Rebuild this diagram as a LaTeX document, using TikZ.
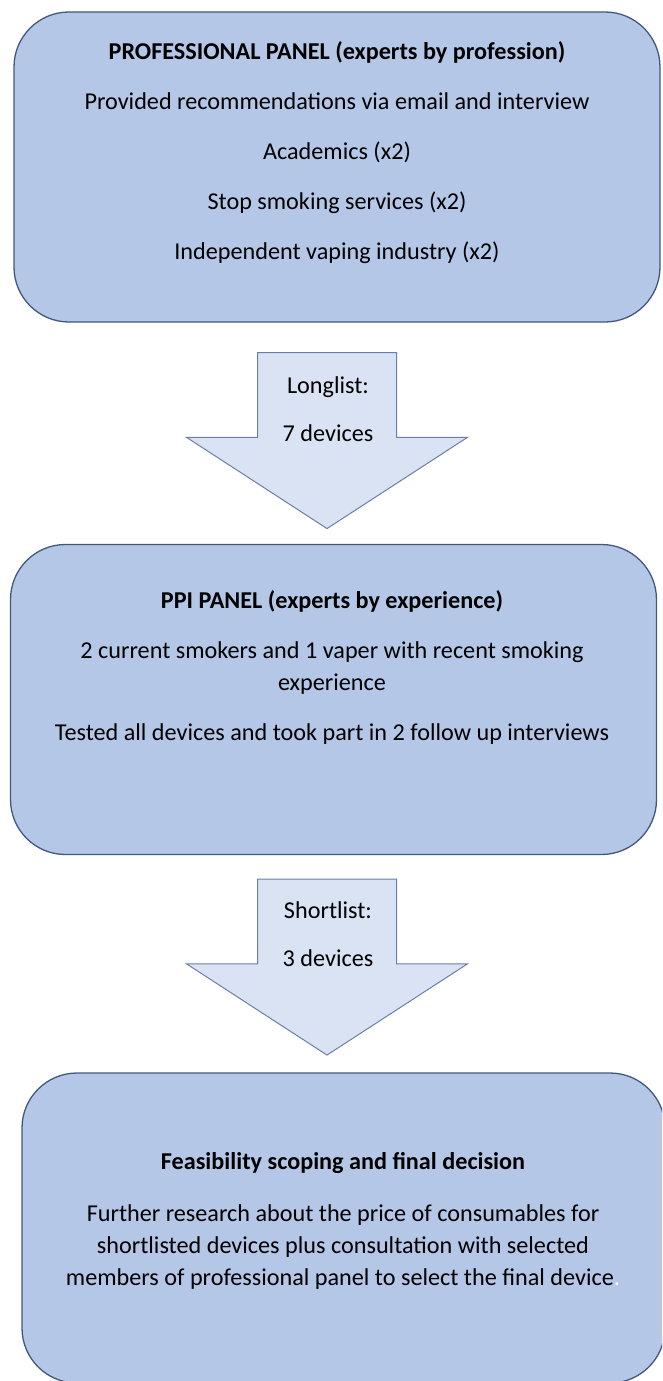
\documentclass[tikz,border=0pt]{standalone}
\usepackage{fontspec}
\setmainfont{Carlito}
\usepackage{tikz}
\usetikzlibrary{shapes.arrows, positioning}

\definecolor{panelfill}{HTML}{B4C7E7}
\definecolor{paneldraw}{HTML}{42587F}
\definecolor{arrowfill}{HTML}{DAE3F3}
\definecolor{arrowdraw}{HTML}{6B7FA6}

\tikzset{
  panel/.style={rectangle, draw=paneldraw, fill=panelfill, line width=1.3pt,
    rounded corners=55pt, minimum width=646pt, minimum height=310pt},
  paneltext/.style={align=center, font=\fontsize{24.2}{32}\selectfont},
  blockarrow/.style={single arrow, draw=arrowdraw, fill=arrowfill, line width=1pt,
    shape border rotate=270, minimum height=176pt, minimum width=280pt,
    single arrow head extend=71pt, single arrow tip angle=114,
    inner xsep=69pt, inner ysep=0pt}
}

\begin{document}
\begin{tikzpicture}[x=1pt, y=-1pt]
\useasboundingbox (0,0) rectangle (662,1381);
\clip (0,0) rectangle (662,1381);

\node (prof) [panel] at (337,167) {};
\node (ppi)  [panel] at (333.5,699.5) {};
\node (feas) [panel, minimum width=643pt] at (343.5,1228) {};

\node (long)  [blockarrow] at (327,418) {};
\node (short) [blockarrow] at (327,944.5) {};

\node (proftext) [paneltext] at (337,152.5) {\textbf{PROFESSIONAL PANEL (experts by profession)}\\[18pt]
  Provided recommendations via email and interview\\[18pt]
  Academics (x2)\\[18pt]
  Stop smoking services (x2)\\[18pt]
  Independent vaping industry (x2)};
\node (ppitext) [paneltext] at (332,667) {\textbf{PPI PANEL (experts by experience)}\\[18pt]
  2 current smokers and 1 vaper with recent smoking\\
  experience\\[18pt]
  Tested all devices and took part in 2 follow up interviews};
\node (feastext) [paneltext] at (343,1220.5) {\textbf{Feasibility scoping and final decision}\\[20pt]
  Further research about the price of consumables for\\
  shortlisted devices plus consultation with selected\\
  members of professional panel to select the final device{\color{white}.}};

\node (longtext)  [paneltext] at (328,409) {Longlist:\\[16pt]7 devices};
\node (shorttext) [paneltext] at (328,934) {Shortlist:\\[16pt]3 devices};
\end{tikzpicture}
\end{document}
